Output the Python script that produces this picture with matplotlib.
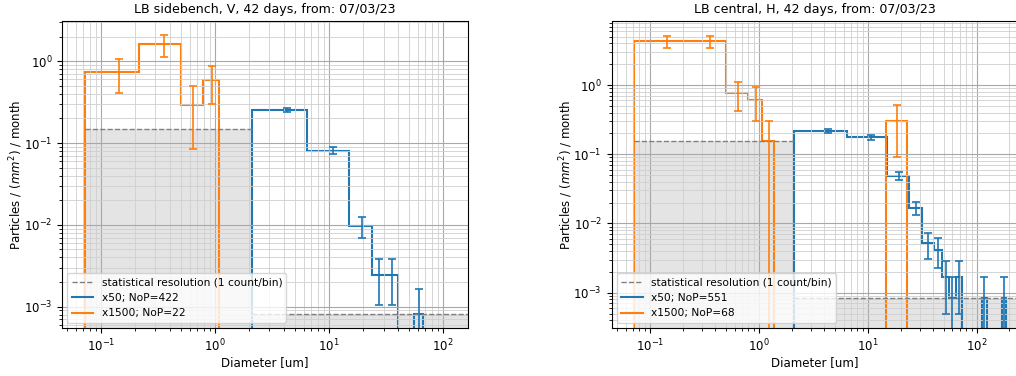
import numpy as np
import matplotlib.pyplot as plt
from matplotlib.lines import Line2D

# ---- data: left panel (LB sidebench, V) ----
title_L = "LB sidebench, V, 42 days, from: 07/03/23"
edges_orange_L = [0.072, 0.215, 0.50, 0.79, 1.08]
vals_orange_L = [0.735, 1.62, 0.294, 0.588]
errs_orange_L = [0.33, 0.49, 0.21, 0.29]
edges_blue_L = [2.12, 6.45, 15.0, 23.7, 31.5, 40.3, 56.0, 66.0]
vals_blue_L = [0.252, 0.081, 0.0098, 0.00246, 0.00246, 0.0, 0.00082]
errs_blue_L = [0.0144, 0.0081, 0.0028, 0.0014, 0.0014, 0.0, 0.00082]
res_orange_L = 0.147
res_blue_L = 0.00082
nop_blue_L = 422
nop_orange_L = 22

# ---- data: right panel (LB central, H) ----
title_R = "LB central, H, 42 days, from: 07/03/23"
edges_orange_R = [0.072, 0.215, 0.50, 0.79, 1.08, 1.38, 14.6, 22.8]
vals_orange_R = [4.28, 4.28, 0.765, 0.612, 0.153, 0.0, 0.306]
errs_orange_R = [0.81, 0.81, 0.34, 0.31, 0.153, 0.0, 0.216]
edges_blue_R = [2.12, 6.45, 15.0, 23.7, 31.5, 40.3, 48.5, 56.0, 64.0, 73.0, 111.0, 125.0, 170.0, 186.0]
vals_blue_R = [0.218, 0.175, 0.0485, 0.0169, 0.0052, 0.0042, 0.0017, 0.00084, 0.0017, 0.0, 0.00084, 0.0, 0.00084]
errs_blue_R = [0.013, 0.012, 0.0064, 0.0038, 0.0021, 0.0019, 0.0012, 0.00084, 0.0012, 0.0, 0.00084, 0.0, 0.00084]
res_orange_R = 0.153
res_blue_R = 0.00084
nop_blue_R = 551
nop_orange_R = 68

# instrument ranges for the resolution shading
range_orange = [0.072, 2.12]
range_blue = [2.12, 300.0]

BLUE = "#1f77b4"
ORANGE = "#ff7f0e"
FS = 8.5


def draw_hist(ax, edges, vals, errs, color):
    ax.stairs(vals, edges, baseline=1e-12, color=color, lw=1.5)
    e = np.array(edges)
    centers = (e[:-1] + e[1:]) / 2
    v = np.array(vals)
    m = v > 0
    ax.errorbar(centers[m], v[m], yerr=np.array(errs)[m], fmt="none",
                ecolor=color, elinewidth=1.2, capsize=3, capthick=1.2)


def panel(ax, title, eo, vo, erro, eb, vb, errb, res_o, res_b, nb, no, xlim, ylim):
    # statistical resolution shading
    ax.fill_between(range_orange, 1e-12, res_o, color="lightgray", alpha=0.6, lw=0)
    ax.fill_between(range_blue, 1e-12, res_b, color="lightgray", alpha=0.6, lw=0)
    ax.plot(range_orange, [res_o, res_o], ls="--", color="gray", lw=1)
    ax.plot(range_blue, [res_b, res_b], ls="--", color="gray", lw=1)

    draw_hist(ax, eb, vb, errb, BLUE)
    draw_hist(ax, eo, vo, erro, ORANGE)

    ax.set_xscale("log")
    ax.set_yscale("log")
    ax.set_xlim(*xlim)
    ax.set_ylim(*ylim)
    ax.grid(which="major", color="#a8a8a8", lw=0.8)
    ax.grid(which="minor", color="#cfcfcf", lw=0.6)
    ax.set_title(title, fontsize=9.1)
    ax.set_xlabel("Diameter [um]", fontsize=FS, labelpad=1.5)
    ax.set_ylabel(r"Particles / $(mm^2)$ / month", fontsize=FS, labelpad=-1)
    ax.tick_params(labelsize=FS)

    handles = [Line2D([], [], ls="--", color="gray", lw=1),
               Line2D([], [], color=BLUE, lw=1.5),
               Line2D([], [], color=ORANGE, lw=1.5)]
    labels = ["statistical resolution (1 count/bin)",
              f"x50; NoP={nb}", f"x1500; NoP={no}"]
    ax.legend(handles, labels, loc="lower left", fontsize=7.7)


fig = plt.figure(figsize=(10.16, 3.76), dpi=100)
axL = fig.add_axes([0.061, 0.128, 0.3996, 0.816])
axR = fig.add_axes([0.602, 0.128, 0.3996, 0.816])

panel(axL, title_L, edges_orange_L, vals_orange_L, errs_orange_L,
      edges_blue_L, vals_blue_L, errs_blue_L, res_orange_L, res_blue_L,
      nop_blue_L, nop_orange_L, (0.0455, 165.0), (5.5e-4, 3.1))
panel(axR, title_R, edges_orange_R, vals_orange_R, errs_orange_R,
      edges_blue_R, vals_blue_R, errs_blue_R, res_orange_R, res_blue_R,
      nop_blue_R, nop_orange_R, (0.0445, 238.0), (3.1e-4, 8.4))

plt.savefig("out.png", dpi=100)
plt.close()
